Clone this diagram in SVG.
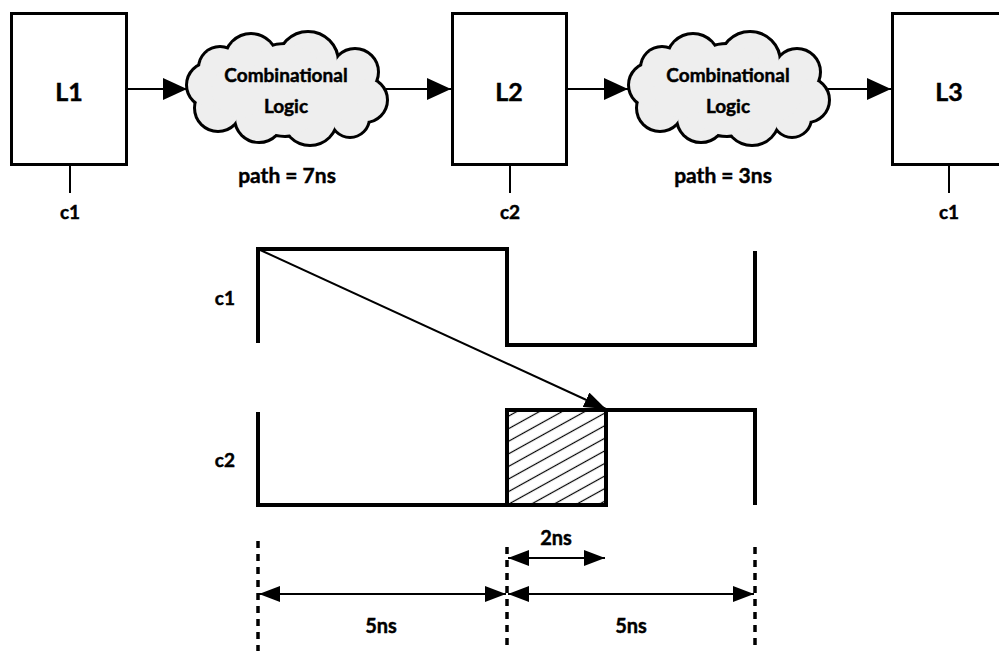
<svg xmlns="http://www.w3.org/2000/svg" xmlns:xlink="http://www.w3.org/1999/xlink" width="999" height="651" viewBox="0 0 999 651">
<style>
  text { font-family: Lato, "Liberation Sans", Arial, sans-serif; font-weight: bold; fill: #000; stroke: #000; stroke-width: 0.45; text-anchor: middle; }
  .latch { fill: #fff; stroke: #000; stroke-width: 3; }
  .big { font-size: 25px; }
  .clk { font-size: 19px; }
  .cl { font-size: 19px; }
  .pth { font-size: 21px; }
  .ns { font-size: 20px; }
  .tick { stroke: #000; stroke-width: 2; }
  .wire { stroke: #000; stroke-width: 2; fill: none; marker-end: url(#bigArrow); }
  .wave { stroke: #000; stroke-width: 4; fill: none; stroke-linejoin: miter; }
  .dash { stroke: #000; stroke-width: 3.5; stroke-dasharray: 7 6; }
  .dim { stroke: #000; stroke-width: 2; fill: none; marker-start: url(#dimArrow); marker-end: url(#dimArrow); }
</style>
<defs>
  <marker id="bigArrow" markerUnits="userSpaceOnUse" markerWidth="24" markerHeight="22" refX="24" refY="11" orient="auto">
    <path d="M0,0 L24,11 L0,22 z" fill="#000"/>
  </marker>
  <marker id="thinArrow" markerUnits="userSpaceOnUse" markerWidth="22" markerHeight="16" refX="22" refY="8" orient="auto">
    <path d="M0,0 L22,8 L0,16 z" fill="#000"/>
  </marker>
  <marker id="dimArrow" markerUnits="userSpaceOnUse" markerWidth="21" markerHeight="16" refX="21" refY="8" orient="auto-start-reverse">
    <path d="M0,0 L21,8 L0,16 z" fill="#000"/>
  </marker>
  <pattern id="hatch" patternUnits="userSpaceOnUse" width="11" height="11" patternTransform="rotate(-29)">
    <line x1="-1" y1="5.5" x2="12" y2="5.5" stroke="#000" stroke-width="1.2"/>
  </pattern>
  <g id="cloudShape">
    <circle cx="66" cy="30" r="25"/>
    <circle cx="123" cy="32" r="29"/>
    <circle cx="170" cy="42" r="22"/>
    <circle cx="180" cy="70" r="21"/>
    <circle cx="165" cy="88" r="18"/>
    <circle cx="125" cy="88" r="26"/>
    <circle cx="74" cy="88" r="23"/>
    <circle cx="33" cy="78" r="22"/>
    <circle cx="24" cy="55" r="21"/>
    <circle cx="35" cy="38" r="20"/>
    <circle cx="100" cy="60" r="45"/>
    <circle cx="145" cy="62" r="30"/>
    <circle cx="55" cy="60" r="28"/>
  </g>
</defs>

<g id="connectors">
  <line class="wire" x1="128" y1="89" x2="187" y2="89"/>
  <line class="wire" x1="386" y1="89" x2="451" y2="89"/>
  <line class="wire" x1="568" y1="89" x2="628" y2="89"/>
  <line class="wire" x1="828" y1="89" x2="891" y2="89"/>
  <line class="tick" x1="70" y1="165" x2="70" y2="193"/>
  <line class="tick" x1="510" y1="165" x2="510" y2="193"/>
  <line class="tick" x1="949" y1="165" x2="949" y2="193"/>
</g>

<g id="L1">
  <rect class="latch" x="11.5" y="13.5" width="115" height="151"/>
  <text class="big" x="69" y="101">L1</text>
  <text class="clk" x="70" y="219">c1</text>
</g>
<g id="L2">
  <rect class="latch" x="452.5" y="13.5" width="114" height="151"/>
  <text class="big" x="509" y="101">L2</text>
  <text class="clk" x="510" y="219">c2</text>
</g>
<g id="L3">
  <rect class="latch" x="892.5" y="13.5" width="115" height="151"/>
  <text class="big" x="949" y="101">L3</text>
  <text class="clk" x="949" y="219">c1</text>
</g>

<g id="cloud1">
  <g transform="translate(185,30)">
    <use xlink:href="#cloudShape" href="#cloudShape" fill="#000" stroke="#000" stroke-width="6"/>
    <use xlink:href="#cloudShape" href="#cloudShape" fill="#eeeeee" stroke="none"/>
  </g>
  <text class="cl" x="286" y="82">Combinational</text>
  <text class="cl" x="286" y="113">Logic</text>
  <text class="pth" x="287" y="183">path = 7ns</text>
</g>
<g id="cloud2">
  <g transform="translate(627,30)">
    <use xlink:href="#cloudShape" href="#cloudShape" fill="#000" stroke="#000" stroke-width="6"/>
    <use xlink:href="#cloudShape" href="#cloudShape" fill="#eeeeee" stroke="none"/>
  </g>
  <text class="cl" x="728" y="82">Combinational</text>
  <text class="cl" x="728" y="113">Logic</text>
  <text class="pth" x="723" y="183">path = 3ns</text>
</g>

<g id="timing">
  <text class="clk" x="235" y="305" style="text-anchor:end">c1</text>
  <text class="clk" x="235" y="467" style="text-anchor:end">c2</text>
  <path class="wave" d="M258,343 V249 H507 V345 H755 V251"/>
  <rect x="507" y="410" width="99" height="95" fill="url(#hatch)"/>
  <path class="wave" d="M258,412 V505 H606 V410 M507,505 V410 H755 V505"/>
  <line x1="258" y1="249" x2="606" y2="409" stroke="#000" stroke-width="2" marker-end="url(#thinArrow)"/>
</g>

<g id="dimensions">
  <line class="dash" x1="258" y1="541" x2="258" y2="651"/>
  <line class="dash" x1="507" y1="547" x2="507" y2="651"/>
  <line class="dash" x1="755" y1="547" x2="755" y2="651"/>
  <line class="dim" x1="508" y1="558" x2="605" y2="558"/>
  <line class="dim" x1="259" y1="594" x2="506" y2="594"/>
  <line class="dim" x1="508" y1="594" x2="754" y2="594"/>
  <text class="ns" x="556" y="545">2ns</text>
  <text class="ns" x="381" y="633">5ns</text>
  <text class="ns" x="631" y="633">5ns</text>
</g>
</svg>
